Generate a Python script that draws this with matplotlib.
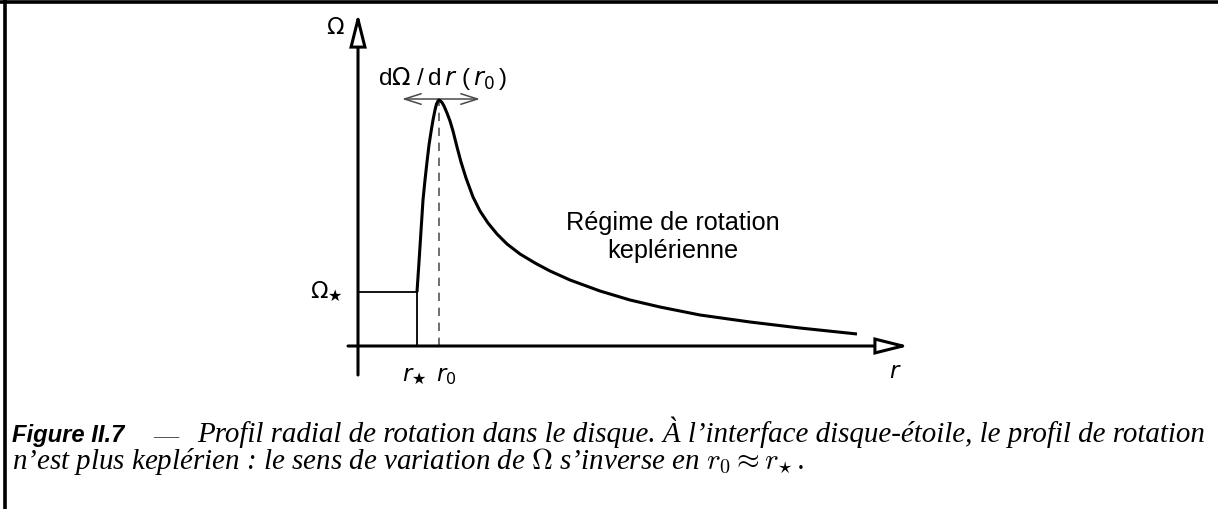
import matplotlib
matplotlib.use("Agg")
import matplotlib.pyplot as plt
from matplotlib.patches import FancyArrowPatch
from matplotlib.lines import Line2D

# ---- data (schematic profile, arbitrary units) ----
r_vals = [1.18, 1.22, 1.26, 1.30, 1.34, 1.38, 1.42, 1.46, 1.50, 1.54, 1.57, 1.60,
          1.62, 1.64, 1.68, 1.72, 1.78, 1.84, 1.90, 1.98, 2.06, 2.16, 2.30, 2.44,
          2.60, 2.78, 2.98, 3.24, 3.54, 3.84, 4.24, 4.84, 5.44, 6.04, 6.84, 7.84,
          8.84, 9.98]
omega_vals = [1.08, 1.68, 2.30, 2.92, 3.32, 3.68, 4.02, 4.28, 4.52, 4.72, 4.84, 4.90,
              4.92, 4.91, 4.87, 4.80, 4.66, 4.50, 4.30, 3.98, 3.68, 3.36, 2.98, 2.70,
              2.46, 2.24, 2.04, 1.84, 1.66, 1.50, 1.32, 1.10, 0.92, 0.78, 0.62, 0.48,
              0.36, 0.24]
r_star = 1.18
r_0 = 1.62
omega_star = 1.08
omega_peak = 4.92

W, H = 1218, 509
fig = plt.figure(figsize=(W / 100, H / 100), dpi=100)
ax = fig.add_axes([0, 0, 1, 1])
S = 50.0  # px per unit
X0, Y0 = 358, 346
ax.set_xlim(-X0 / S, (W - X0) / S)
ax.set_ylim((Y0 - H) / S, Y0 / S)
ax.axis("off")

def P(px, py):
    return ((px - X0) / S, (Y0 - py) / S)

# axes arrows
for start, end in [(P(358, 375), P(358, 13)), (P(348, 346), P(909, 346))]:
    a = FancyArrowPatch(start, end, arrowstyle="-|>,head_length=20,head_width=5",
                        mutation_scale=1, lw=2.2, ec="black", fc="white",
                        shrinkA=0, shrinkB=0, joinstyle="miter", zorder=3)
    ax.add_patch(a)

# Omega_star step
ax.plot([0, r_star], [omega_star, omega_star], color="black", lw=1.3)
ax.plot([r_star, r_star], [0, omega_star], color="black", lw=1.3)
# dashed r0
ax.plot([r_0, r_0], [0, omega_peak], color="#555555", lw=1.2, dashes=(5, 4))
# profile
ax.plot(r_vals, omega_vals, color="black", lw=2.2, solid_joinstyle="round",
        solid_capstyle="butt")

# double arrow for slope
da = FancyArrowPatch(P(402, 99), P(480, 99), arrowstyle="<->,head_length=12,head_width=3.8",
                     mutation_scale=1, lw=1.1, color="#4a4a4a", shrinkA=0, shrinkB=0)
ax.add_patch(da)

sans = "Liberation Sans"
mf = "dejavusans"
ax.text(*P(335, 28), r"$\Omega$", ha="center", va="center", fontsize=16.5,
        family=sans, math_fontfamily=mf)
t_d = ax.text(*P(443, 79), r"d$\Omega\;$/$\,$d$\,r\;$($\,r_0\,$)", ha="center", va="center",
              fontsize=16.5, family=sans, math_fontfamily=mf)
ax.text(*P(327, 292), r"$\Omega_\bigstar$", ha="center", va="center", fontsize=16.5,
        family=sans, math_fontfamily=mf)
ax.text(*P(414, 376), r"$r_\bigstar$", ha="center", va="center", fontsize=16.5,
        family=sans, math_fontfamily=mf)
ax.text(*P(446, 376), r"$r_0$", ha="center", va="center", fontsize=16.5,
        family=sans, math_fontfamily=mf)
ax.text(*P(895, 371), r"$r$", ha="center", va="center", fontsize=16.5,
        family=sans, math_fontfamily=mf)
t_reg = ax.text(*P(673, 237), "Régime de rotation\nkeplérienne", ha="center", va="center",
                fontsize=18, family=sans, linespacing=1.2)

# frame border (top and left)
fig.add_artist(Line2D([0, 1], [1 - 1.5 / H, 1 - 1.5 / H], color="black", lw=2.6,
                      transform=fig.transFigure))
fig.add_artist(Line2D([4.5 / W, 4.5 / W], [0, 1], color="black", lw=2.6,
                      transform=fig.transFigure))

# caption
def fy(py):
    return 1 - py / H

t_fig = fig.text(12 / W, fy(442), "Figure II.7", fontsize=15, family=sans,
                 weight="bold", style="italic", va="baseline", ha="left")
t_dash = fig.text(153 / W, fy(442), "—", fontsize=18, family="Liberation Serif",
                  color="#555555", va="baseline", ha="left")
t_l1 = fig.text(197 / W, fy(442),
                "Profil radial de rotation dans le disque. À l’interface disque-étoile, le profil de rotation",
                fontsize=13, family="Liberation Serif", style="italic", va="baseline", ha="left")
t_l2 = fig.text(12 / W, fy(469),
                r"n’est plus keplérien : le sens de variation de $\Omega$ s’inverse en $r_0 \approx r_{\!\star}$.",
                fontsize=13, family="Liberation Serif", style="italic", va="baseline", ha="left",
                math_fontfamily="cm")

fig.canvas.draw()
rend = fig.canvas.get_renderer()
def fit(t, target):
    w = t.get_window_extent(rend).width
    t.set_fontsize(t.get_fontsize() * target / w)
fit(t_fig, 112)
fit(t_l1, 1008)
fit(t_d, 129)
fit(t_reg, 213)
t_l2.set_fontsize(t_l1.get_fontsize())

fig.savefig("out.png", dpi=100)
